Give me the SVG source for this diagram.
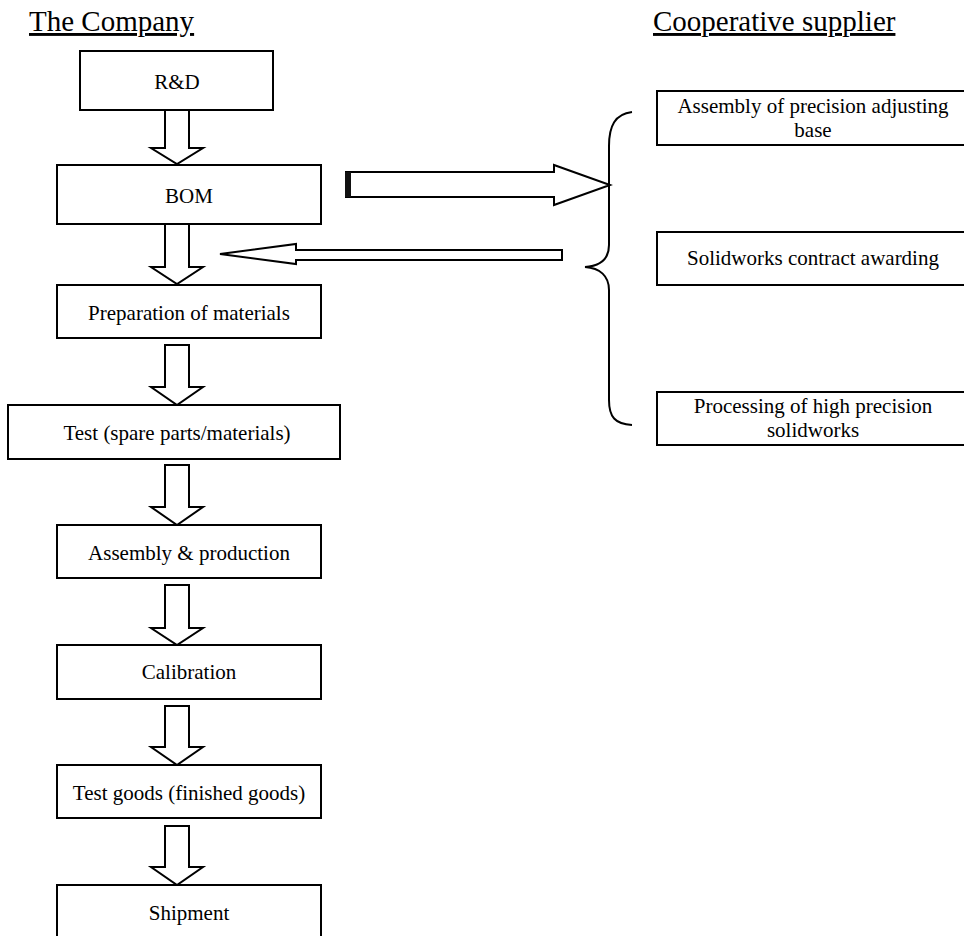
<svg xmlns="http://www.w3.org/2000/svg" width="964" height="936" viewBox="0 0 964 936">
<style>
.box{fill:#fff;stroke:#000;stroke-width:2}
.arr{fill:#fff;stroke:#000;stroke-width:2;stroke-linejoin:miter}
text{font-family:'Liberation Serif','Times New Roman',Tinos,'DejaVu Serif',serif}
.t{font-size:21px;fill:#000;text-anchor:middle}
.h{font-size:29px;fill:#000;text-decoration:underline}
.br{fill:none;stroke:#000;stroke-width:2}
</style>
<rect width="964" height="936" fill="#fff"/>
<g id="headers" font-family="Liberation Serif, serif">
<text class="h" x="29" y="31">The Company</text>
<text class="h" x="653" y="31">Cooperative supplier</text>
</g>
<g id="connectors">
<path class="arr" d="M165,110 H189 V148 H203 L177,164 L151,148 H165 Z"/>
<path class="arr" d="M165,224 H189 V267 H203 L177,284 L151,267 H165 Z"/>
<path class="arr" d="M165,345 H189 V387 H203 L177,405 L151,387 H165 Z"/>
<path class="arr" d="M165,465 H189 V507 H203 L177,525 L151,507 H165 Z"/>
<path class="arr" d="M165,585 H189 V628 H203 L177,645 L151,628 H165 Z"/>
<path class="arr" d="M165,706 H189 V747 H203 L177,765 L151,747 H165 Z"/>
<path class="arr" d="M165,826 H189 V867 H203 L177,885 L151,867 H165 Z"/>
<path class="arr" d="M346,172 H554 V165 L610,185 L554,205 V197 H346 Z"/>
<rect x="345" y="172" width="6" height="25" fill="#111"/>
<path class="arr" d="M562,250 V260 H296 V264 L220,254 L296,244 V250 Z"/>
<path class="br" d="M632,112 C615,114 609,126 609,146 L609,245 C609,259 600,266 585,267 C600,268 609,276 609,290 L609,400 C609,417 615,424 632,425"/>
</g>
<g id="rd"><rect class="box" x="80" y="51" width="193" height="59"/><text class="t" x="177" y="89">R&amp;D</text></g>
<g id="bom"><rect class="box" x="57" y="165" width="264" height="59"/><text class="t" x="189" y="203">BOM</text></g>
<g id="prep"><rect class="box" x="57" y="285" width="264" height="53"/><text class="t" x="189" y="320">Preparation of materials</text></g>
<g id="test"><rect class="box" x="8" y="405" width="332" height="54"/><text class="t" x="177" y="440">Test (spare parts/materials)</text></g>
<g id="assembly"><rect class="box" x="57" y="525" width="264" height="53"/><text class="t" x="189" y="560">Assembly &amp; production</text></g>
<g id="calibration"><rect class="box" x="57" y="645" width="264" height="54"/><text class="t" x="189" y="679">Calibration</text></g>
<g id="testgoods"><rect class="box" x="57" y="765" width="264" height="53"/><text class="t" x="189" y="800">Test goods (finished goods)</text></g>
<g id="shipment"><rect class="box" x="57" y="885" width="264" height="60"/><text class="t" x="189" y="920">Shipment</text></g>
<g id="sup1"><rect class="box" x="657" y="91" width="312" height="54"/><text class="t" x="813" y="113">Assembly of precision adjusting</text><text class="t" x="813" y="137">base</text></g>
<g id="sup2"><rect class="box" x="657" y="232" width="312" height="53"/><text class="t" x="813" y="265">Solidworks contract awarding</text></g>
<g id="sup3"><rect class="box" x="657" y="392" width="312" height="53"/><text class="t" x="813" y="413">Processing of high precision</text><text class="t" x="813" y="437">solidworks</text></g>
</svg>
